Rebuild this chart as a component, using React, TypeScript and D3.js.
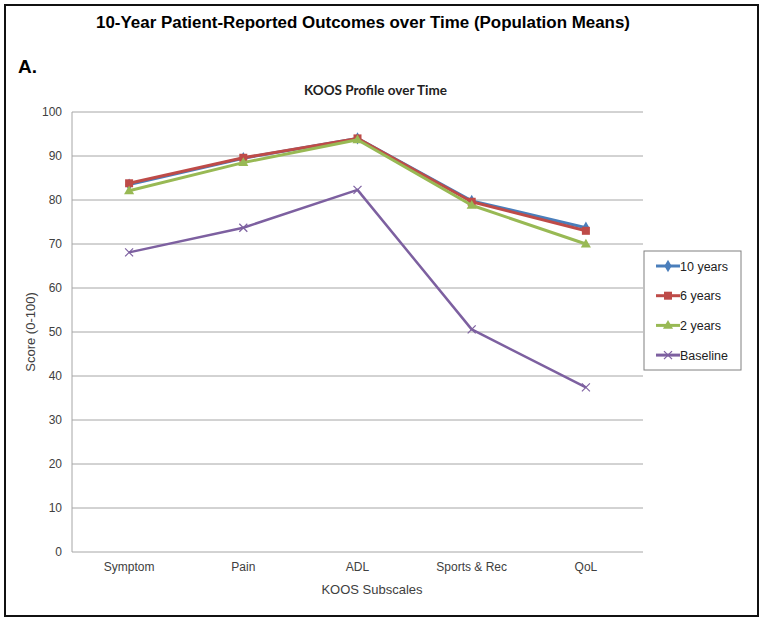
import React from "react";
import * as d3 from "d3";

const categories = ["Symptom", "Pain", "ADL", "Sports & Rec", "QoL"];
const seriesNames = ["10 years", "6 years", "2 years", "Baseline"];
const tenYears = [83.5, 89.5, 94.0, 79.8, 73.7];
const sixYears = [83.8, 89.6, 94.0, 79.6, 73.0];
const twoYears = [82.1, 88.5, 93.7, 78.8, 70.0];
const baseline = [68.1, 73.7, 82.3, 50.6, 37.4];
const yTicks = [0, 10, 20, 30, 40, 50, 60, 70, 80, 90, 100];

const colors = ["#4a7ebb", "#be4b48", "#98b954", "#7d60a0"];
const markers = ["diamond", "square", "triangle", "x"];

function Marker({ type, x, y, color }: { type: string; x: number; y: number; color: string }) {
  if (type === "diamond") {
    const s = d3.symbol(d3.symbolDiamond, 44)();
    return <path d={s || ""} transform={`translate(${x},${y})`} fill={color} />;
  }
  if (type === "square") {
    return <rect x={x - 4} y={y - 4} width={8} height={8} fill={color} />;
  }
  if (type === "triangle") {
    const s = d3.symbol(d3.symbolTriangle, 44)();
    return <path d={s || ""} transform={`translate(${x},${y + 0.5})`} fill={color} />;
  }
  return (
    <g stroke={color} strokeWidth={1.2}>
      <line x1={x - 4} y1={y - 4} x2={x + 4} y2={y + 4} />
      <line x1={x - 4} y1={y + 4} x2={x + 4} y2={y - 4} />
    </g>
  );
}

export default function App() {
  const W = 762, H = 622;
  const left = 72, right = 643, top = 112, bottom = 552;
  const x = d3.scalePoint<string>().domain(categories).range([left, right]).padding(0.5);
  const y = d3.scaleLinear().domain([0, 100]).range([bottom, top]);
  const data = [tenYears, sixYears, twoYears, baseline];
  const line = d3
    .line<number>()
    .x((_, i) => x(categories[i]) as number)
    .y((d) => y(d));
  const font = "'Liberation Sans', Arial, sans-serif";
  const order = [0, 1, 2, 3];

  return (
    <svg
      width={W}
      height={H}
      style={{ position: "absolute", left: 0, top: 0, background: "#fff" }}
    >
      <rect x={5} y={5} width={753} height={611} fill="#fff" stroke="#111" strokeWidth={2} />
      <text
        x={96}
        y={28}
        fontFamily={font}
        fontWeight="bold"
        fontSize={16}
        fill="#000"
        textLength={534}
        lengthAdjust="spacingAndGlyphs"
      >
        10-Year Patient-Reported Outcomes over Time (Population Means)
      </text>
      <text x={18} y={73} fontFamily={font} fontWeight="bold" fontSize={19} fill="#000">
        A.
      </text>
      <text
        x={304}
        y={95}
        fontFamily="Lato, 'Open Sans', sans-serif"
        fontWeight="bold"
        fontSize={13}
        fill="#222"
        textLength={143}
        lengthAdjust="spacingAndGlyphs"
      >
        KOOS Profile over Time
      </text>

      {yTicks.map((t) => (
        <g key={t}>
          <line x1={left} x2={right} y1={y(t)} y2={y(t)} stroke="#a6a6a6" strokeWidth={1} />
          <text x={62} y={y(t) + 4} textAnchor="end" fontFamily={font} fontSize={12} fill="#404040">
            {t}
          </text>
        </g>
      ))}
      <line x1={left} x2={left} y1={top} y2={bottom} stroke="#a6a6a6" strokeWidth={1} />

      {categories.map((c) => (
        <text key={c} x={x(c) as number} y={571} textAnchor="middle" fontFamily={font} fontSize={12} fill="#404040">
          {c}
        </text>
      ))}
      <text x={372} y={594} textAnchor="middle" fontFamily={font} fontSize={13} fill="#404040">
        KOOS Subscales
      </text>
      <text
        transform={`translate(35,${332}) rotate(-90)`}
        textAnchor="middle"
        fontFamily={font}
        fontSize={13}
        fill="#404040"
      >
        Score (0-100)
      </text>

      {order.map((si) => (
        <g key={si}>
          <path
            d={line(data[si]) || ""}
            fill="none"
            stroke={colors[si]}
            strokeWidth={si === 3 ? 2.5 : 3}
            strokeLinejoin="round"
          />
          {data[si].map((v, i) => (
            <Marker key={i} type={markers[si]} x={x(categories[i]) as number} y={y(v)} color={colors[si]} />
          ))}
        </g>
      ))}

      <rect x={644} y={251} width={97} height={119} fill="#fff" stroke="#808080" strokeWidth={1} />
      {seriesNames.map((n, i) => {
        const ly = 266 + i * 29.7;
        return (
          <g key={n}>
            <line x1={656} x2={680} y1={ly} y2={ly} stroke={colors[i]} strokeWidth={3} />
            <Marker type={markers[i]} x={668} y={ly} color={colors[i]} />
            <text x={680} y={ly + 4.5} fontFamily={font} fontSize={12.5} fill="#222">
              {n}
            </text>
          </g>
        );
      })}
    </svg>
  );
}
